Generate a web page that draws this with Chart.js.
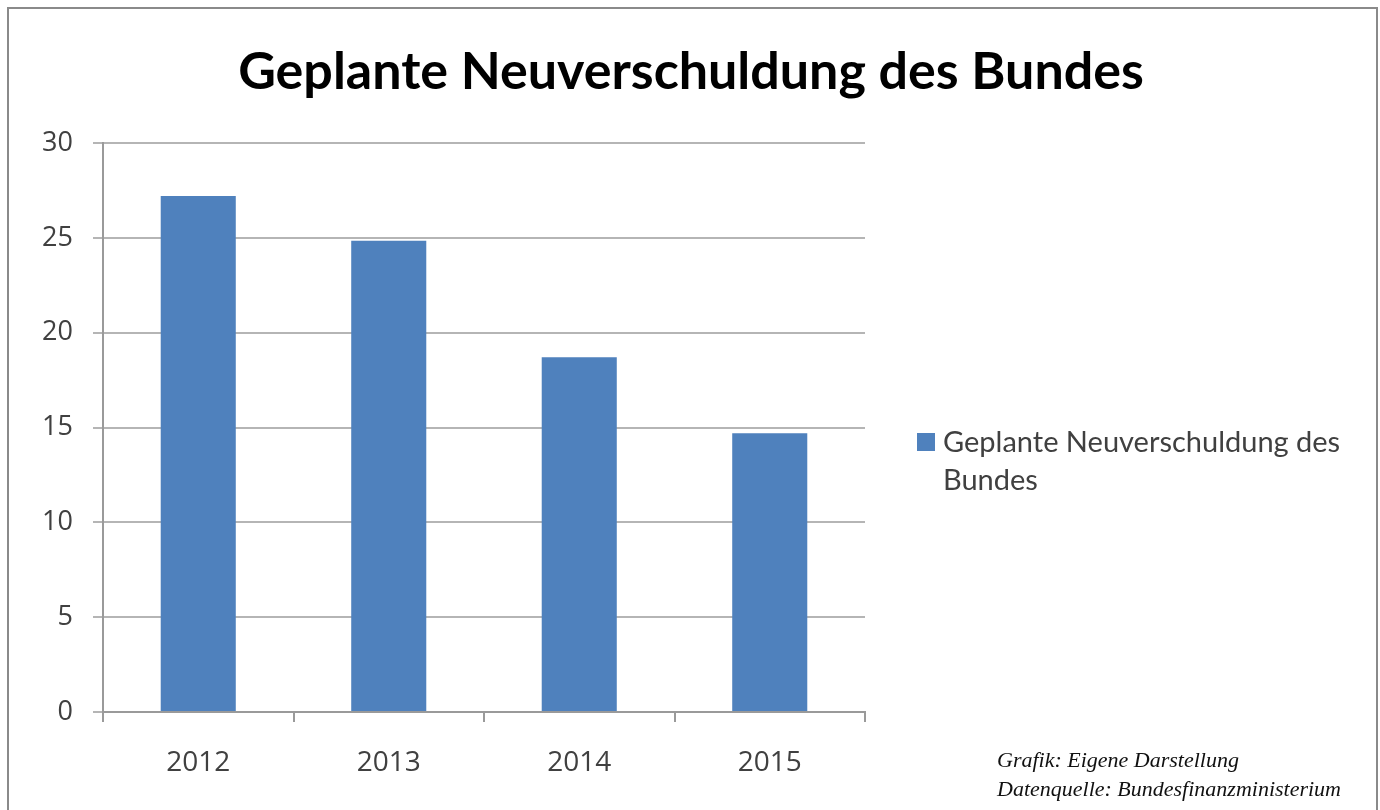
<!DOCTYPE html>
<html>
<head>
<meta charset="utf-8">
<script src="https://cdn.jsdelivr.net/npm/chart.js@4"></script>
<style>
html,body{margin:0;padding:0;background:#fff;}
#wrap{width:1380px;height:810px;position:relative;}
</style>
</head>
<body>
<div id="wrap"><canvas id="c" width="1380" height="810"></canvas></div>
<script>
const titleText = "Geplante Neuverschuldung des Bundes";
const categories = ["2012", "2013", "2014", "2015"];
const seriesName = "Geplante Neuverschuldung des Bundes";
const seriesValues = [27.2, 24.85, 18.7, 14.7];
const legendLines = ["Geplante Neuverschuldung des", "Bundes"];
const footnoteLines = ["Grafik: Eigene Darstellung", "Datenquelle: Bundesfinanzministerium"];
const yMin = 0, yMax = 30, yStep = 5;

const BAR = "#4F81BD";
const TXT = "#404040";

const decor = {
  id: "decor",
  beforeDraw(chart) {
    const ctx = chart.ctx;
    ctx.save();
    ctx.fillStyle = "#fff";
    ctx.fillRect(0, 0, chart.width, chart.height);
    ctx.strokeStyle = "#8a8a8a";
    ctx.lineWidth = 2;
    ctx.strokeRect(8, 8, 1369, 820);
    ctx.restore();
  },
  afterDraw(chart) {
    const ctx = chart.ctx;
    ctx.save();
    // title
    ctx.fillStyle = "#000";
    ctx.font = "bold 52px Lato";
    ctx.textAlign = "center";
    ctx.textBaseline = "middle";
    ctx.fillText(titleText, 691, 72);
    // legend
    const ds = chart.data.datasets[0];
    ctx.fillStyle = ds.backgroundColor;
    ctx.fillRect(917, 433, 18, 18);
    ctx.fillStyle = TXT;
    ctx.font = "29px Lato";
    ctx.textAlign = "left";
    ctx.fillText(legendLines[0], 943, 443);
    ctx.fillText(legendLines[1], 943, 481);
    // footnote
    ctx.fillStyle = "#111";
    ctx.font = "italic 22px 'Liberation Serif'";
    ctx.fillText(footnoteLines[0], 997, 761);
    ctx.fillText(footnoteLines[1], 997, 790);
    ctx.restore();
  }
};

new Chart(document.getElementById("c"), {
  type: "bar",
  data: {
    labels: categories,
    datasets: [{
      label: seriesName,
      data: seriesValues,
      backgroundColor: BAR,
      borderWidth: 0,
      categoryPercentage: 1,
      barPercentage: 0.394
    }]
  },
  options: {
    responsive: false,
    animation: false,
    devicePixelRatio: 1,
    layout: { padding: { top: 143, left: 8, right: 515, bottom: 0 } },
    plugins: { legend: { display: false }, title: { display: false }, tooltip: { enabled: false } },
    scales: {
      x: {
        afterFit(s) { s.height = 98; },
        grid: { display: true, drawOnChartArea: false, drawTicks: true, tickLength: 10, color: "#9a9a9a", lineWidth: 2, offset: true },
        border: { display: true, color: "#9a9a9a", width: 2 },
        ticks: { color: TXT, font: { family: "Open Sans", size: 28 }, padding: 24 }
      },
      y: {
        min: yMin, max: yMax,
        afterFit(s) { s.width = 95; },
        grid: { color: "#b5b5b5", lineWidth: 2, tickLength: 10, drawTicks: true },
        border: { display: true, color: "#9a9a9a", width: 2 },
        ticks: { stepSize: yStep, color: TXT, font: { family: "Open Sans", size: 27 }, padding: 20 }
      }
    }
  },
  plugins: [decor]
});
</script>
</body>
</html>
